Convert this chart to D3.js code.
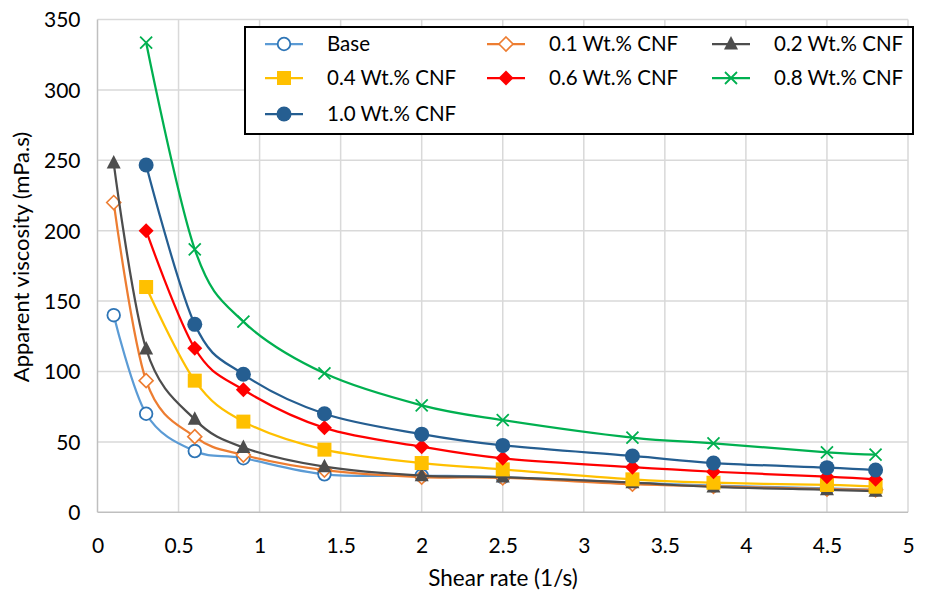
<!DOCTYPE html>
<html><head><meta charset="utf-8">
<script src="https://cdn.jsdelivr.net/npm/d3@7"></script>
<style>body{margin:0;background:#fff}svg text{font-family:Lato,"Open Sans",sans-serif;fill:#000}</style>
</head><body><svg id="c" width="925" height="596"></svg>
<script>
const xAll = [0.1, 0.3, 0.6, 0.9, 1.4, 2, 2.5, 3.3, 3.8, 4.5, 4.8];
const xFrom03 = [0.3, 0.6, 0.9, 1.4, 2, 2.5, 3.3, 3.8, 4.5, 4.8];
const seriesNames = ["Base","0.1 Wt.% CNF","0.2 Wt.% CNF","0.4 Wt.% CNF","0.6 Wt.% CNF","0.8 Wt.% CNF","1.0 Wt.% CNF"];
const base   = [140, 70, 43.5, 38.4, 27, 26, 25, 21, 19, 17, 16];
const cnf01  = [220, 93.5, 53.7, 40.7, 30, 25, 24.5, 20, 18.5, 16.5, 16];
const cnf02  = [248, 116, 66, 46, 32.4, 26, 25, 21, 18, 16, 15];
const cnf04  = [160, 93.5, 64.4, 44.5, 35, 30.5, 23.4, 21, 19.4, 18.2];
const cnf06  = [200, 116.5, 87, 60, 46.6, 38.3, 32, 28.8, 25.3, 23.4];
const cnf08  = [333.6, 186.8, 135.4, 98.7, 76, 65.5, 53, 49, 42.6, 41];
const cnf10  = [246.7, 133.5, 98, 70, 55.5, 47.5, 40, 35, 31.7, 30];
const xTicks = [0,0.5,1,1.5,2,2.5,3,3.5,4,4.5,5];
const yTicks = [0,50,100,150,200,250,300,350];

const styles = [
  {color:"#5b9bd5", mstroke:"#2e75b6", marker:"circleOpen"},
  {color:"#ed7d31", mstroke:"#ed7d31", marker:"diamondOpen"},
  {color:"#4d4d4d", mstroke:"#4d4d4d", marker:"triangle"},
  {color:"#ffc000", mstroke:"#ffc000", marker:"square"},
  {color:"#ff0000", mstroke:"#ff0000", marker:"diamond"},
  {color:"#00b050", mstroke:"#00b050", marker:"x"},
  {color:"#255e91", mstroke:"#255e91", marker:"circle"}
];
const seriesX = [xAll,xAll,xAll,xFrom03,xFrom03,xFrom03,xFrom03];
const seriesY = [base,cnf01,cnf02,cnf04,cnf06,cnf08,cnf10];

const svg = d3.select("#c");
const x = d3.scaleLinear().domain([0,5]).range([97.5,908]);
const y = d3.scaleLinear().domain([0,350]).range([512.3,19.5]);

const g = svg.append("g");
g.selectAll(".gx").data(xTicks.slice(1)).join("line")
 .attr("x1",d=>x(d)).attr("x2",d=>x(d)).attr("y1",y(0)).attr("y2",y(350))
 .attr("stroke","#d9d9d9").attr("stroke-width",1.5);
g.selectAll(".gy").data(yTicks.slice(1)).join("line")
 .attr("x1",x(0)).attr("x2",x(5)).attr("y1",d=>y(d)).attr("y2",d=>y(d))
 .attr("stroke","#d9d9d9").attr("stroke-width",1.5);
g.append("line").attr("x1",x(0)).attr("x2",x(0)).attr("y1",y(0)).attr("y2",y(350)).attr("stroke","#bfbfbf").attr("stroke-width",1.5);
g.append("line").attr("x1",x(0)).attr("x2",x(5)).attr("y1",y(0)).attr("y2",y(0)).attr("stroke","#bfbfbf").attr("stroke-width",1.5);

const ax = svg.append("g").attr("transform",`translate(0,${y(0)})`)
  .call(d3.axisBottom(x).tickValues(xTicks).tickSize(0).tickPadding(24).tickFormat(d=>String(d)));
ax.select(".domain").remove();
ax.selectAll("text").attr("font-size",21).attr("font-family","Lato").attr("dy","0.35em").attr("y",33);
const ay = svg.append("g").attr("transform",`translate(${x(0)},0)`)
  .call(d3.axisLeft(y).tickValues(yTicks).tickSize(0).tickPadding(17).tickFormat(d=>String(d)));
ay.select(".domain").remove();
ay.selectAll("text").attr("font-size",21).attr("font-family","Lato").attr("dy","0.35em");

svg.append("text").attr("x",503).attr("y",586).attr("text-anchor","middle").attr("font-size",22.5).text("Shear rate (1/s)");
svg.append("text").attr("transform","translate(29,257) rotate(-90)").attr("text-anchor","middle").attr("font-size",22).text("Apparent viscosity (mPa.s)");

function drawMarker(sel, type, s){
  const c = s.mstroke;
  if(type==="circleOpen") sel.append("circle").attr("r",6.3).attr("fill","#fff").attr("stroke",c).attr("stroke-width",1.8);
  else if(type==="circle") sel.append("circle").attr("r",7.5).attr("fill",c);
  else if(type==="diamondOpen") sel.append("path").attr("d","M0,-7L7,0L0,7L-7,0Z").attr("fill","#fff").attr("stroke",c).attr("stroke-width",1.6);
  else if(type==="diamond") sel.append("path").attr("d","M0,-7.5L7.5,0L0,7.5L-7.5,0Z").attr("fill",c);
  else if(type==="triangle") sel.append("path").attr("d","M0,-8L7,5.5L-7,5.5Z").attr("fill",c);
  else if(type==="square") sel.append("rect").attr("x",-7).attr("y",-7).attr("width",14).attr("height",14).attr("fill",c);
  else if(type==="x") sel.append("path").attr("d","M-6,-6L6,6M-6,6L6,-6").attr("stroke",c).attr("stroke-width",1.8).attr("fill","none");
}

const line = d3.line().curve(d3.curveCatmullRom.alpha(0));
seriesY.forEach((vals,i)=>{
  const pts = vals.map((v,j)=>[x(seriesX[i][j]), y(v)]);
  const sg = svg.append("g");
  sg.append("path").attr("d",line(pts)).attr("fill","none").attr("stroke",styles[i].color).attr("stroke-width",2.25);
  pts.forEach(p=>{ drawMarker(sg.append("g").attr("transform",`translate(${p[0]},${p[1]})`), styles[i].marker, styles[i]); });
});

const lg = svg.append("g");
lg.append("rect").attr("x",245).attr("y",27).attr("width",668).attr("height",107).attr("fill","#fff").attr("stroke","#000").attr("stroke-width",2);
const colX = [265,487,712], rowY = [44,78,114];
seriesNames.forEach((n,i)=>{
  const cx = colX[i%3], cy = rowY[Math.floor(i/3)];
  lg.append("line").attr("x1",cx).attr("x2",cx+38).attr("y1",cy).attr("y2",cy).attr("stroke",styles[i].color).attr("stroke-width",2.25);
  drawMarker(lg.append("g").attr("transform",`translate(${cx+19},${cy})`), styles[i].marker, styles[i]);
  lg.append("text").attr("x",cx+62).attr("y",cy).attr("dy","0.35em").attr("font-size",20.5).text(n);
});
</script></body></html>
